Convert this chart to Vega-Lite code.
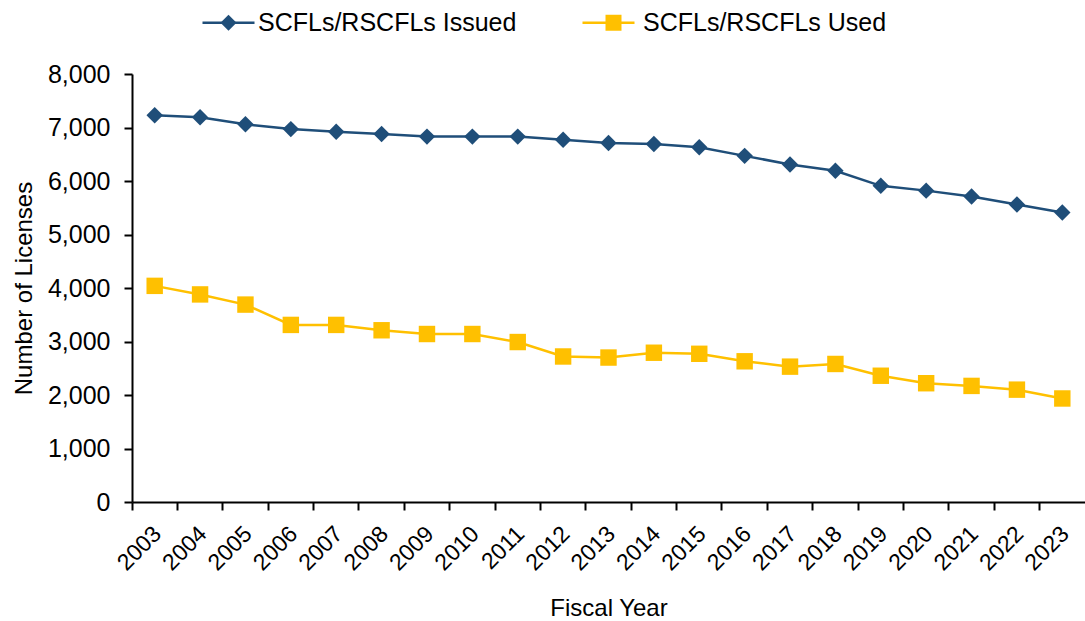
{
  "$schema": "https://vega.github.io/schema/vega-lite/v6.json",
  "autosize": {"type": "none"},
  "width": 953,
  "height": 428,
  "padding": {"left": 132, "top": 74, "right": 0, "bottom": 119},
  "background": "white",
  "config": {
    "view": {"stroke": null},
    "font": "Liberation Sans",
    "axis": {
      "domainColor": "black", "domainWidth": 2,
      "tickColor": "black", "tickWidth": 2, "tickSize": 8,
      "labelColor": "black", "labelFont": "Liberation Sans",
      "titleColor": "black", "titleFont": "Liberation Sans", "titleFontWeight": "normal",
      "grid": false
    }
  },
  "data": {
    "values": [
      {"year": "2003", "series": "SCFLs/RSCFLs Issued", "value": 7230},
      {"year": "2004", "series": "SCFLs/RSCFLs Issued", "value": 7190},
      {"year": "2005", "series": "SCFLs/RSCFLs Issued", "value": 7060},
      {"year": "2006", "series": "SCFLs/RSCFLs Issued", "value": 6970},
      {"year": "2007", "series": "SCFLs/RSCFLs Issued", "value": 6920},
      {"year": "2008", "series": "SCFLs/RSCFLs Issued", "value": 6880},
      {"year": "2009", "series": "SCFLs/RSCFLs Issued", "value": 6830},
      {"year": "2010", "series": "SCFLs/RSCFLs Issued", "value": 6830},
      {"year": "2011", "series": "SCFLs/RSCFLs Issued", "value": 6830},
      {"year": "2012", "series": "SCFLs/RSCFLs Issued", "value": 6770},
      {"year": "2013", "series": "SCFLs/RSCFLs Issued", "value": 6710},
      {"year": "2014", "series": "SCFLs/RSCFLs Issued", "value": 6690},
      {"year": "2015", "series": "SCFLs/RSCFLs Issued", "value": 6630},
      {"year": "2016", "series": "SCFLs/RSCFLs Issued", "value": 6470},
      {"year": "2017", "series": "SCFLs/RSCFLs Issued", "value": 6310},
      {"year": "2018", "series": "SCFLs/RSCFLs Issued", "value": 6190},
      {"year": "2019", "series": "SCFLs/RSCFLs Issued", "value": 5910},
      {"year": "2020", "series": "SCFLs/RSCFLs Issued", "value": 5820},
      {"year": "2021", "series": "SCFLs/RSCFLs Issued", "value": 5710},
      {"year": "2022", "series": "SCFLs/RSCFLs Issued", "value": 5560},
      {"year": "2023", "series": "SCFLs/RSCFLs Issued", "value": 5410},
      {"year": "2003", "series": "SCFLs/RSCFLs Used", "value": 4040},
      {"year": "2004", "series": "SCFLs/RSCFLs Used", "value": 3880},
      {"year": "2005", "series": "SCFLs/RSCFLs Used", "value": 3690},
      {"year": "2006", "series": "SCFLs/RSCFLs Used", "value": 3310},
      {"year": "2007", "series": "SCFLs/RSCFLs Used", "value": 3310},
      {"year": "2008", "series": "SCFLs/RSCFLs Used", "value": 3210},
      {"year": "2009", "series": "SCFLs/RSCFLs Used", "value": 3140},
      {"year": "2010", "series": "SCFLs/RSCFLs Used", "value": 3140},
      {"year": "2011", "series": "SCFLs/RSCFLs Used", "value": 2990},
      {"year": "2012", "series": "SCFLs/RSCFLs Used", "value": 2720},
      {"year": "2013", "series": "SCFLs/RSCFLs Used", "value": 2700},
      {"year": "2014", "series": "SCFLs/RSCFLs Used", "value": 2790},
      {"year": "2015", "series": "SCFLs/RSCFLs Used", "value": 2770},
      {"year": "2016", "series": "SCFLs/RSCFLs Used", "value": 2630},
      {"year": "2017", "series": "SCFLs/RSCFLs Used", "value": 2530},
      {"year": "2018", "series": "SCFLs/RSCFLs Used", "value": 2580},
      {"year": "2019", "series": "SCFLs/RSCFLs Used", "value": 2360},
      {"year": "2020", "series": "SCFLs/RSCFLs Used", "value": 2220},
      {"year": "2021", "series": "SCFLs/RSCFLs Used", "value": 2170},
      {"year": "2022", "series": "SCFLs/RSCFLs Used", "value": 2100},
      {"year": "2023", "series": "SCFLs/RSCFLs Used", "value": 1935}
    ]
  },
  "encoding": {
    "x": {
      "field": "year", "type": "ordinal", "title": "Fiscal Year",
      "scale": {"type": "band", "paddingInner": 0, "paddingOuter": 0},
      "axis": {
        "bandPosition": 0, "labelAngle": -45, "labelAlign": "right", "labelBaseline": "middle",
        "labelOffset": 3, "labelPadding": 20, "labelFontSize": 23,
        "titleFontSize": 24, "titlePadding": 22
      }
    },
    "y": {
      "field": "value", "type": "quantitative", "title": "Number of Licenses",
      "scale": {"domain": [0, 8000], "nice": false},
      "axis": {
        "values": [0, 1000, 2000, 3000, 4000, 5000, 6000, 7000, 8000],
        "format": ",.0f", "labelFontSize": 25, "labelPadding": 14, "titleFontSize": 24, "titlePadding": 11
      }
    }
  },
  "layer": [
    {
      "mark": {"type": "line", "strokeWidth": 2.5},
      "encoding": {
        "stroke": {
          "field": "series", "type": "nominal",
          "scale": {"domain": ["SCFLs/RSCFLs Used", "SCFLs/RSCFLs Issued"], "range": ["#FFC000", "#1F4E79"]},
          "legend": {
            "values": ["SCFLs/RSCFLs Issued", "SCFLs/RSCFLs Used"],
            "title": null, "orient": "none", "legendX": 84, "legendY": -64,
            "direction": "horizontal", "columns": 2, "columnPadding": 317, "padding": 0,
            "symbolType": "M-3.25,0H3.25", "symbolSize": 256, "symbolStrokeWidth": 2.5,
            "labelExpr": "''",
            "labelFontSize": 25, "labelFont": "Liberation Sans", "labelColor": "black",
            "labelOffset": 17, "labelLimit": 600
          }
        }
      }
    },
    {
      "mark": {"type": "point", "filled": true, "opacity": 1, "size": 270},
      "encoding": {
        "color": {
          "field": "series", "type": "nominal",
          "scale": {"domain": ["SCFLs/RSCFLs Issued", "SCFLs/RSCFLs Used"], "range": ["#1F4E79", "#FFC000"]},
          "legend": {
            "title": null, "orient": "none", "legendX": 84, "legendY": -64,
            "direction": "horizontal", "columns": 2, "columnPadding": 84, "padding": 0,
            "symbolSize": 256, "symbolStrokeWidth": 2.5,
            "labelFontSize": 25, "labelFont": "Liberation Sans", "labelColor": "black",
            "labelOffset": 17, "labelLimit": 600
          }
        },
        "shape": {
          "field": "series", "type": "nominal",
          "scale": {"domain": ["SCFLs/RSCFLs Issued", "SCFLs/RSCFLs Used"], "range": ["diamond", "square"]},
          "legend": null
        }
      }
    }
  ]
}
